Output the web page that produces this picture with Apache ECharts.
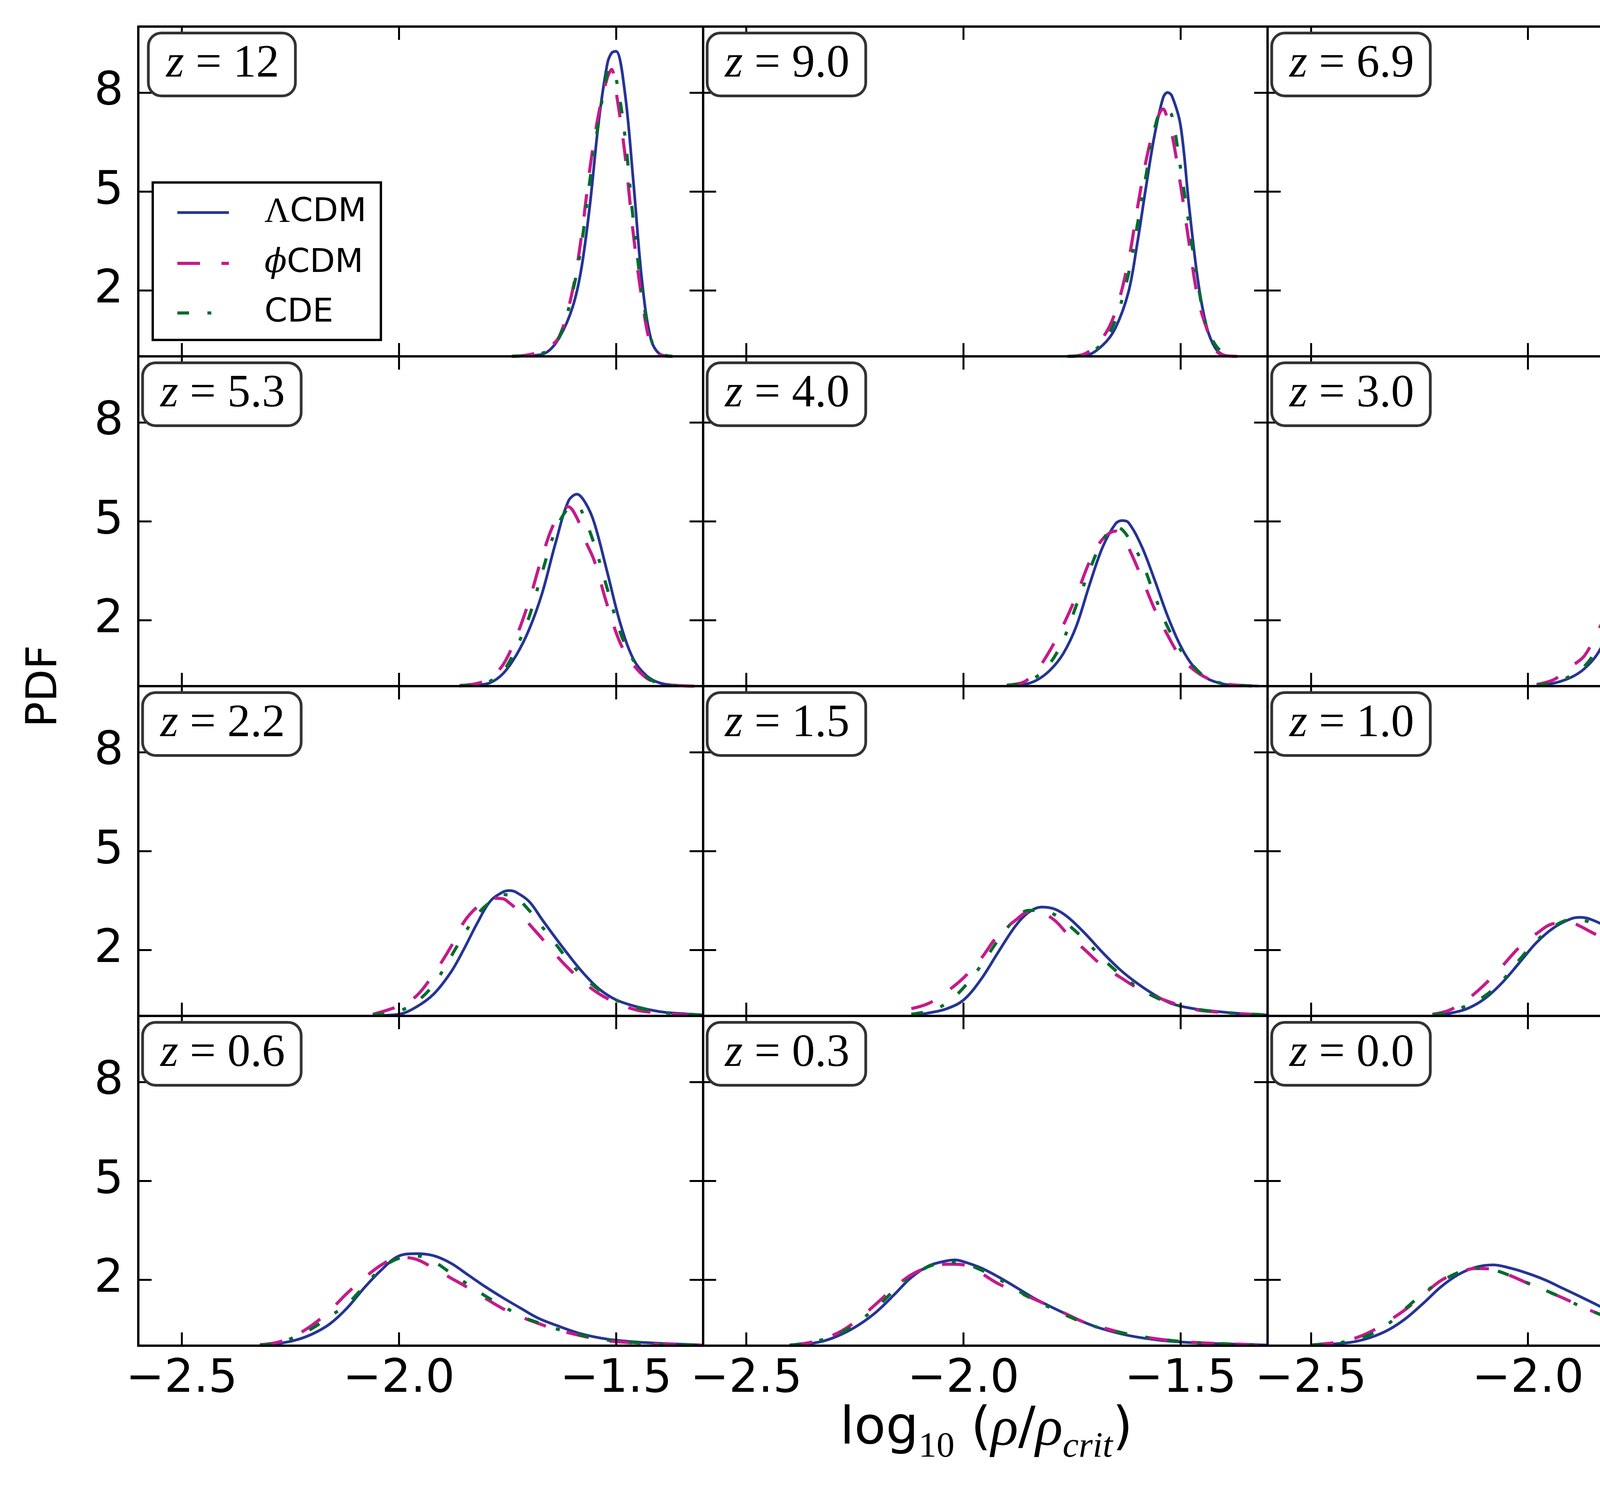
<!DOCTYPE html>
<html>
<head>
<meta charset="utf-8">
<script src="https://cdn.jsdelivr.net/npm/echarts@6/dist/echarts.min.js"></script>
<style>
  html, body { margin: 0; padding: 0; background: #fff; }
  #main { width: 4760px; height: 3821px; }
</style>
</head>
<body>
<div id="main"></div>
<script>
// ---- data ----
const zLabels = ['12', '9.0', '6.9', '5.3', '4.0', '3.0', '2.2', '1.5', '1.0', '0.6', '0.3', '0.0'];
const seriesNames = ['ΛCDM', 'ϕCDM', 'CDE'];
const legendText = ['{g|Λ}CDM', '{gi|ϕ}CDM', 'CDE'];
const xTicks = [-2.5, -2.0, -1.5];
const yTicks = [2, 5, 8];

// z = 12
const x_z12 = [-1.74, -1.70, -1.66, -1.63, -1.60, -1.58, -1.56, -1.54, -1.52, -1.51, -1.50, -1.48, -1.46, -1.44, -1.42, -1.40, -1.37];
const lcdm_z12 = [0.01, 0.02, 0.12, 0.58, 1.49, 2.64, 4.6, 7.1, 8.87, 9.2, 9.25, 8.05, 5.3, 2.27, 0.55, 0.08, 0];
const phi_z12 = [0, 0.05, 0.23, 0.62, 2.0, 3.6, 5.7, 7.35, 8.45, 8.7, 8.05, 6.2, 3.7, 1.72, 0.35, 0.05, 0];
const cde_z12 = [0, 0.03, 0.15, 0.6, 1.95, 3.35, 5.35, 7.1, 8.6, 8.75, 8.45, 6.75, 4.1, 1.95, 0.55, 0.1, 0];

// z = 9.0
const x_z90 = [-1.76, -1.72, -1.68, -1.65, -1.62, -1.60, -1.58, -1.56, -1.54, -1.53, -1.52, -1.50, -1.48, -1.46, -1.44, -1.42, -1.40, -1.37];
const lcdm_z90 = [0, 0.02, 0.33, 0.86, 1.95, 3.4, 5.1, 6.7, 7.85, 8.0, 7.9, 7.0, 4.5, 2.3, 0.9, 0.25, 0.04, 0];
const phi_z90 = [0, 0.08, 0.55, 1.35, 2.9, 4.45, 5.9, 6.95, 7.5, 7.2, 6.75, 5.2, 3.4, 1.75, 0.85, 0.2, 0.03, 0];
const cde_z90 = [0, 0.05, 0.4, 1.1, 2.5, 3.95, 5.45, 6.9, 7.5, 7.45, 7.3, 5.7, 3.95, 2.2, 0.9, 0.35, 0.1, 0];

// z = 6.9
const x_z69 = [-1.80, -1.76, -1.73, -1.70, -1.67, -1.64, -1.62, -1.60, -1.58, -1.56, -1.54, -1.52, -1.50, -1.48, -1.46, -1.44, -1.42, -1.40, -1.37, -1.34];
const lcdm_z69 = [0, 0.03, 0.19, 0.62, 1.54, 3.0, 4.24, 5.47, 6.43, 6.83, 6.6, 5.63, 4.12, 2.54, 1.26, 0.55, 0.2, 0.08, 0.02, 0];
const phi_z69 = [0.02, 0.2, 0.5, 0.95, 2.16, 3.8, 4.82, 5.7, 6.3, 6.2, 5.3, 4.25, 3.05, 1.9, 1.1, 0.5, 0.2, 0.07, 0.02, 0];
const cde_z69 = [0.02, 0.12, 0.3, 0.75, 1.8, 3.15, 4.25, 5.6, 6.3, 6.3, 5.9, 4.8, 3.4, 2.2, 1.25, 0.65, 0.25, 0.08, 0.02, 0];

// z = 5.3
const x_z53 = [-1.86, -1.82, -1.79, -1.76, -1.73, -1.70, -1.67, -1.64, -1.61, -1.59, -1.57, -1.55, -1.52, -1.49, -1.46, -1.43, -1.40, -1.36, -1.32];
const lcdm_z53 = [0, 0.03, 0.1, 0.38, 0.93, 1.72, 2.82, 4.3, 5.6, 5.82, 5.55, 4.95, 3.45, 1.9, 0.82, 0.32, 0.1, 0.02, 0];
const phi_z53 = [0.02, 0.08, 0.25, 0.65, 1.48, 2.59, 3.93, 5.0, 5.44, 5.1, 4.4, 3.8, 2.45, 1.3, 0.65, 0.25, 0.08, 0.02, 0];
const cde_z53 = [0.01, 0.05, 0.15, 0.45, 1.15, 2.1, 3.45, 4.7, 5.4, 5.47, 5.0, 4.3, 2.95, 1.62, 0.78, 0.28, 0.08, 0.02, 0];

// z = 4.0
const x_z40 = [-1.90, -1.86, -1.83, -1.80, -1.77, -1.74, -1.71, -1.68, -1.65, -1.635, -1.62, -1.59, -1.56, -1.53, -1.50, -1.47, -1.44, -1.40, -1.36, -1.32];
const lcdm_z40 = [0, 0.05, 0.19, 0.49, 0.99, 1.82, 3.06, 4.2, 4.92, 5.02, 4.96, 4.25, 3.23, 2.13, 1.22, 0.59, 0.24, 0.06, 0.02, 0];
const phi_z40 = [0.03, 0.13, 0.5, 1.1, 1.85, 2.74, 3.76, 4.45, 4.7, 4.5, 4.2, 3.3, 2.34, 1.55, 0.88, 0.5, 0.25, 0.08, 0.02, 0];
const cde_z40 = [0.02, 0.1, 0.3, 0.7, 1.4, 2.45, 3.5, 4.4, 4.85, 4.75, 4.5, 3.8, 2.75, 1.8, 1.1, 0.6, 0.25, 0.07, 0.02, 0];

// z = 3.0
const x_z30 = [-1.98, -1.94, -1.90, -1.87, -1.84, -1.81, -1.78, -1.75, -1.72, -1.69, -1.66, -1.63, -1.60, -1.57, -1.54, -1.51, -1.48, -1.45, -1.41, -1.36, -1.31];
const lcdm_z30 = [0.02, 0.09, 0.27, 0.53, 0.98, 1.75, 2.68, 3.55, 4.1, 4.36, 4.2, 3.66, 2.94, 2.18, 1.52, 0.95, 0.5, 0.25, 0.12, 0.05, 0.02];
const phi_z30 = [0.05, 0.2, 0.6, 0.92, 1.65, 2.42, 3.25, 3.75, 4.08, 3.88, 3.39, 2.78, 2.16, 1.6, 1.16, 0.72, 0.48, 0.3, 0.15, 0.05, 0.02];
const cde_z30 = [0.03, 0.12, 0.32, 0.6, 1.15, 1.95, 2.8, 3.6, 4.12, 4.08, 3.85, 3.28, 2.5, 1.85, 1.28, 0.85, 0.5, 0.28, 0.12, 0.05, 0.02];

// z = 2.2
const x_z22 = [-2.06, -2.00, -1.96, -1.92, -1.88, -1.85, -1.82, -1.79, -1.76, -1.745, -1.73, -1.70, -1.67, -1.64, -1.61, -1.58, -1.54, -1.50, -1.45, -1.40, -1.35, -1.30];
const lcdm_z22 = [0.01, 0.05, 0.27, 0.66, 1.33, 2.03, 2.8, 3.47, 3.76, 3.8, 3.75, 3.47, 2.92, 2.38, 1.86, 1.37, 0.83, 0.49, 0.27, 0.13, 0.07, 0.03];
const phi_z22 = [0.05, 0.3, 0.6, 1.27, 2.1, 2.85, 3.3, 3.57, 3.55, 3.42, 3.25, 2.79, 2.34, 1.87, 1.45, 1.08, 0.68, 0.4, 0.17, 0.09, 0.04, 0.02];
const cde_z22 = [0.03, 0.15, 0.42, 0.95, 1.8, 2.47, 3.07, 3.45, 3.68, 3.66, 3.6, 3.2, 2.7, 2.2, 1.69, 1.25, 0.8, 0.48, 0.25, 0.12, 0.06, 0.03];

// z = 1.5
const x_z15 = [-2.12, -2.08, -2.04, -2.00, -1.96, -1.92, -1.88, -1.85, -1.82, -1.79, -1.76, -1.72, -1.68, -1.64, -1.60, -1.56, -1.52, -1.47, -1.42, -1.36, -1.30];
const lcdm_z15 = [0.02, 0.09, 0.21, 0.48, 1.1, 1.93, 2.73, 3.14, 3.3, 3.24, 3.0, 2.5, 1.93, 1.41, 0.99, 0.64, 0.37, 0.22, 0.14, 0.07, 0.03];
const phi_z15 = [0.22, 0.38, 0.72, 1.15, 1.73, 2.45, 2.9, 3.15, 3.12, 2.9, 2.48, 2.0, 1.52, 1.18, 0.85, 0.6, 0.4, 0.2, 0.12, 0.06, 0.03];
const cde_z15 = [0.05, 0.15, 0.37, 0.85, 1.52, 2.3, 2.95, 3.2, 3.2, 3.07, 2.78, 2.3, 1.75, 1.27, 0.88, 0.58, 0.37, 0.22, 0.13, 0.07, 0.03];

// z = 1.0
const x_z10 = [-2.22, -2.18, -2.14, -2.10, -2.06, -2.02, -1.98, -1.94, -1.90, -1.88, -1.86, -1.82, -1.78, -1.74, -1.70, -1.66, -1.62, -1.57, -1.52, -1.46, -1.38, -1.30];
const lcdm_z10 = [0.02, 0.08, 0.22, 0.52, 1.0, 1.61, 2.23, 2.68, 2.95, 2.99, 2.95, 2.71, 2.34, 1.9, 1.47, 1.07, 0.8, 0.5, 0.26, 0.15, 0.08, 0.05];
const phi_z10 = [0.05, 0.18, 0.5, 0.95, 1.5, 2.08, 2.5, 2.8, 2.82, 2.72, 2.58, 2.3, 1.95, 1.53, 1.26, 0.98, 0.72, 0.42, 0.24, 0.13, 0.06, 0.03];
const cde_z10 = [0.03, 0.12, 0.32, 0.6, 1.06, 1.7, 2.28, 2.72, 2.92, 2.9, 2.85, 2.5, 2.07, 1.63, 1.24, 0.9, 0.65, 0.45, 0.28, 0.15, 0.07, 0.04];

// z = 0.6
const x_z06 = [-2.32, -2.28, -2.24, -2.20, -2.16, -2.12, -2.08, -2.04, -2.00, -1.96, -1.92, -1.88, -1.84, -1.80, -1.76, -1.72, -1.68, -1.64, -1.58, -1.52, -1.45, -1.38, -1.30];
const lcdm_z06 = [0.01, 0.06, 0.16, 0.35, 0.65, 1.13, 1.75, 2.3, 2.72, 2.79, 2.73, 2.5, 2.14, 1.78, 1.45, 1.14, 0.84, 0.63, 0.36, 0.2, 0.11, 0.06, 0.02];
const phi_z06 = [0.03, 0.1, 0.3, 0.62, 1.05, 1.58, 2.05, 2.45, 2.68, 2.62, 2.35, 2.05, 1.75, 1.43, 1.12, 0.88, 0.68, 0.5, 0.3, 0.15, 0.08, 0.04, 0.01];
const cde_z06 = [0.02, 0.08, 0.26, 0.52, 0.88, 1.25, 1.8, 2.35, 2.65, 2.72, 2.55, 2.2, 1.85, 1.5, 1.2, 0.9, 0.7, 0.52, 0.32, 0.17, 0.09, 0.04, 0.01];

// z = 0.3
const x_z03 = [-2.40, -2.36, -2.32, -2.28, -2.24, -2.20, -2.16, -2.12, -2.08, -2.04, -2.02, -2.00, -1.96, -1.92, -1.88, -1.84, -1.80, -1.76, -1.72, -1.68, -1.62, -1.55, -1.47, -1.38, -1.30];
const lcdm_z03 = [0, 0.05, 0.15, 0.35, 0.64, 1.03, 1.54, 2.07, 2.42, 2.57, 2.6, 2.55, 2.36, 2.09, 1.78, 1.46, 1.19, 0.94, 0.7, 0.51, 0.31, 0.17, 0.09, 0.05, 0.02];
const phi_z03 = [0.02, 0.08, 0.22, 0.45, 0.82, 1.28, 1.75, 2.15, 2.38, 2.47, 2.47, 2.45, 2.2, 1.88, 1.65, 1.43, 1.19, 0.94, 0.7, 0.55, 0.35, 0.2, 0.1, 0.05, 0.02];
const cde_z03 = [0.01, 0.08, 0.2, 0.4, 0.75, 1.16, 1.67, 2.07, 2.4, 2.52, 2.52, 2.5, 2.3, 2.03, 1.72, 1.4, 1.15, 0.9, 0.68, 0.52, 0.35, 0.2, 0.1, 0.05, 0.02];

// z = 0.0
const x_z00 = [-2.50, -2.44, -2.40, -2.36, -2.32, -2.28, -2.24, -2.20, -2.16, -2.12, -2.08, -2.04, -2.00, -1.96, -1.92, -1.88, -1.84, -1.80, -1.76, -1.72, -1.66, -1.58, -1.50, -1.40, -1.30];
const lcdm_z00 = [0.02, 0.06, 0.12, 0.26, 0.49, 0.84, 1.3, 1.79, 2.16, 2.38, 2.45, 2.35, 2.19, 1.99, 1.74, 1.49, 1.23, 0.98, 0.75, 0.57, 0.36, 0.18, 0.1, 0.05, 0.02];
const phi_z00 = [0.02, 0.1, 0.22, 0.44, 0.76, 1.12, 1.56, 1.98, 2.22, 2.34, 2.32, 2.12, 1.89, 1.67, 1.45, 1.21, 0.98, 0.78, 0.63, 0.47, 0.33, 0.18, 0.1, 0.05, 0.02];
const cde_z00 = [0.02, 0.08, 0.18, 0.36, 0.68, 1.15, 1.6, 1.95, 2.22, 2.35, 2.3, 2.12, 1.9, 1.68, 1.45, 1.2, 0.98, 0.78, 0.63, 0.48, 0.33, 0.18, 0.1, 0.05, 0.02];

const panels = [
  [x_z12, lcdm_z12, phi_z12, cde_z12],
  [x_z90, lcdm_z90, phi_z90, cde_z90],
  [x_z69, lcdm_z69, phi_z69, cde_z69],
  [x_z53, lcdm_z53, phi_z53, cde_z53],
  [x_z40, lcdm_z40, phi_z40, cde_z40],
  [x_z30, lcdm_z30, phi_z30, cde_z30],
  [x_z22, lcdm_z22, phi_z22, cde_z22],
  [x_z15, lcdm_z15, phi_z15, cde_z15],
  [x_z10, lcdm_z10, phi_z10, cde_z10],
  [x_z06, lcdm_z06, phi_z06, cde_z06],
  [x_z03, lcdm_z03, phi_z03, cde_z03],
  [x_z00, lcdm_z00, phi_z00, cde_z00]
];

// ---- layout and style ----
const PL = 354, PT = 68, PW = 1445.3, PH = 844;
const SANS = 'DejaVu Sans';
const SERIF = 'Liberation Serif';
const lineStyles = [
  { color: '#253494', width: 7, type: 'solid' },
  { color: '#c51b8a', width: 8, type: [58, 55] },
  { color: '#006d2c', width: 8, type: [30, 47, 10, 47] }
];

function fmtX(v) {
  return (v < 0 ? '\u2212' : '') + Math.abs(v).toFixed(1);
}

const myChart = echarts.init(document.getElementById('main'));

var grid = [], xAxis = [], yAxis = [], series = [], graphic = [];

panels.forEach(function (p, i) {
  var r = Math.floor(i / 3), c = i % 3;
  var left = PL + c * PW, top = PT + r * PH;
  grid.push({ left: left, top: top, width: PW, height: PH });

  var axLine = { show: true, onZero: false, lineStyle: { color: '#000', width: 6 } };
  var xBase = {
    gridIndex: i, type: 'value', min: -2.6, max: -1.3, z: 5,
    splitLine: { show: false }, axisLine: axLine,
    axisTick: { show: true, inside: true, length: 34, customValues: xTicks, lineStyle: { color: '#000', width: 5 } }
  };
  xAxis.push(Object.assign({}, xBase, {
    position: 'bottom',
    axisLabel: { show: r === 3, customValues: xTicks, formatter: fmtX, margin: 28, fontSize: 118, fontFamily: SANS, color: '#000' }
  }));
  xAxis.push(Object.assign({}, xBase, { position: 'top', axisLabel: { show: false } }));

  var yBase = {
    gridIndex: i, type: 'value', min: 0, max: 10, z: 5,
    splitLine: { show: false }, axisLine: axLine,
    axisTick: { show: true, inside: true, length: 34, customValues: yTicks, lineStyle: { color: '#000', width: 5 } }
  };
  yAxis.push(Object.assign({}, yBase, {
    position: 'left',
    axisLabel: { show: c === 0, customValues: yTicks, margin: 38, fontSize: 118, fontFamily: SANS, color: '#000' }
  }));
  yAxis.push(Object.assign({}, yBase, { position: 'right', axisLabel: { show: false } }));

  p.slice(1).forEach(function (ys, k) {
    series.push({
      type: 'line', name: seriesNames[k],
      xAxisIndex: 2 * i, yAxisIndex: 2 * i,
      data: p[0].map(function (x, j) { return [x, ys[j]]; }),
      symbol: 'none', smooth: 0.35, silent: true,
      lineStyle: lineStyles[k], itemStyle: { color: lineStyles[k].color },
      z: 2 + k
    });
  });

  // redshift label box
  graphic.push({
    type: 'text', x: left + 214, y: top + 20, z: 20,
    style: {
      text: '{i|z} = ' + zLabels[i],
      align: 'center', verticalAlign: 'top', textAlign: 'center', textVerticalAlign: 'top',
      fill: '#000', fontFamily: SERIF, fontSize: 118, lineHeight: 118,
      rich: { i: { fontFamily: SERIF, fontStyle: 'italic', fontSize: 118, lineHeight: 118 } },
      backgroundColor: '#fff', borderColor: '#333', borderWidth: 7, borderRadius: 30,
      padding: [18, 38, 18, 42]
    }
  });
});

// axis titles
graphic.push({
  type: 'text', x: 116, y: PT + 2 * PH, rotation: Math.PI / 2,
  style: {
    text: 'PDF', fill: '#000', fontFamily: SANS, fontSize: 108,
    align: 'center', verticalAlign: 'middle', textAlign: 'center', textVerticalAlign: 'middle'
  }
});
graphic.push({
  type: 'text', x: 2525, y: 3660,
  style: {
    text: '{n|log}{s|10}{n| (}{g|ρ}{n|/}{g|ρ}{si|crit}{n|)}',
    fill: '#000', align: 'center', verticalAlign: 'middle', textAlign: 'center', textVerticalAlign: 'middle',
    rich: {
      n: { fontFamily: SANS, fontSize: 132, lineHeight: 180 },
      s: { fontFamily: SERIF, fontSize: 92, lineHeight: 92, verticalAlign: 'bottom' },
      g: { fontFamily: SERIF, fontStyle: 'italic', fontSize: 145, lineHeight: 180 },
      si: { fontFamily: SERIF, fontStyle: 'italic', fontSize: 92, lineHeight: 92, verticalAlign: 'bottom' }
    }
  }
});

var option = {
  animation: false,
  backgroundColor: '#fff',
  grid: grid,
  xAxis: xAxis,
  yAxis: yAxis,
  series: series,
  graphic: graphic,
  legend: {
    data: seriesNames.map(function (n, k) {
      return {
        name: n,
        itemStyle: { color: 'rgba(0,0,0,0)', borderColor: 'rgba(0,0,0,0)', borderWidth: 0, opacity: 0 },
        lineStyle: { color: lineStyles[k].color, width: lineStyles[k].width, type: lineStyles[k].type }
      };
    }),
    orient: 'vertical', align: 'left',
    left: 391, top: 467,
    itemWidth: 132, itemHeight: 2, itemGap: 43,
    padding: [32, 37, 27, 59],
    borderColor: '#000', borderWidth: 6, borderRadius: 0, backgroundColor: '#fff',
    selectedMode: false,
    formatter: function (name) { return legendText[seriesNames.indexOf(name)]; },
    textStyle: {
      fontFamily: SANS, fontSize: 84, lineHeight: 84, color: '#000', padding: [0, 0, 0, 86],
      rich: {
        g: { fontFamily: SERIF, fontSize: 90, lineHeight: 84 },
        gi: { fontFamily: 'DejaVu Serif', fontStyle: 'italic', fontSize: 84, lineHeight: 84 }
      }
    }
  }
};

option && myChart.setOption(option);
</script>
</body>
</html>
